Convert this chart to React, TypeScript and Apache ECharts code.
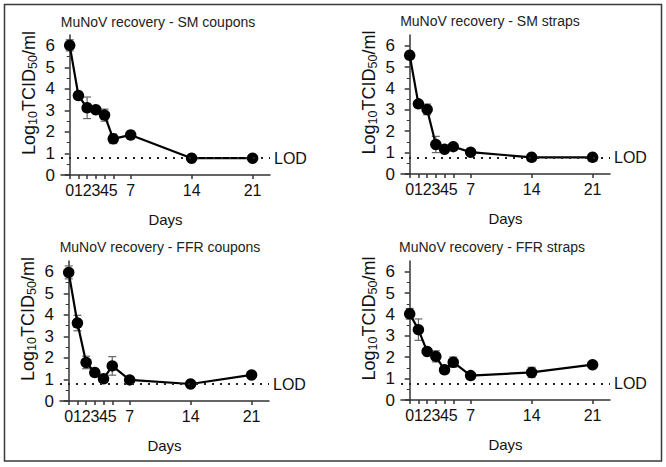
import React, { useEffect, useRef } from "react";
import * as echarts from "echarts";

const days = [0, 1, 2, 3, 4, 5, 7, 14, 21];
const dayTicks = [0, 1, 2, 3, 4, 5, 7, 14, 21];
const yTicks = [0, 1, 2, 3, 4, 5, 6];
const LOD = 0.78;

const titles = [
  "MuNoV recovery - SM coupons",
  "MuNoV recovery - SM straps",
  "MuNoV recovery - FFR coupons",
  "MuNoV recovery - FFR straps",
];

const smCouponsMean = [6.02, 3.69, 3.12, 3.03, 2.78, 1.68, 1.86, 0.78, 0.78];
const smCouponsErr = [0.26, 0, 0.5, 0, 0.28, 0.22, 0.18, 0, 0];

const smStrapsMean = [5.55, 3.28, 3.02, 1.38, 1.16, 1.28, 1.02, 0.78, 0.78];
const smStrapsErr = [0, 0, 0.25, 0.38, 0, 0, 0, 0, 0];

const ffrCouponsMean = [5.97, 3.62, 1.79, 1.32, 1.03, 1.63, 0.98, 0.79, 1.21];
const ffrCouponsErr = [0.3, 0.36, 0.29, 0, 0, 0.43, 0, 0, 0];

const ffrStrapsMean = [4.03, 3.29, 2.27, 2.04, 1.41, 1.77, 1.14, 1.29, 1.65];
const ffrStrapsErr = [0.25, 0.5, 0, 0.26, 0, 0.24, 0, 0.24, 0];

const means = [smCouponsMean, smStrapsMean, ffrCouponsMean, ffrStrapsMean];
const errs = [smCouponsErr, smStrapsErr, ffrCouponsErr, ffrStrapsErr];

const FONT = "'Liberation Sans', Arial, sans-serif";

export default function App() {
  const ref = useRef<HTMLDivElement>(null);

  useEffect(() => {
    if (!ref.current) return;
    const chart = echarts.init(ref.current, undefined, { renderer: "svg" });

    const grids = [
      { left: 61, top: 35, width: 209, height: 140 },
      { left: 401, top: 35, width: 209, height: 139 },
      { left: 60, top: 261, width: 209, height: 140 },
      { left: 401, top: 261, width: 209, height: 139 },
    ];
    const titlePos = [
      { left: 158, top: 15 },
      { left: 490, top: 14 },
      { left: 160, top: 240 },
      { left: 492, top: 240 },
    ];

    const axisColor = "#333";

    const xAxes = grids.map((_, i) => ({
      type: "value",
      gridIndex: i,
      min: -1,
      max: 23,
      interval: 1,
      name: "Days",
      nameLocation: "middle",
      nameGap: 37,
      nameTextStyle: { fontSize: 15, color: "#111", fontFamily: FONT },
      axisLine: { show: true, lineStyle: { color: axisColor, width: 1.5 } },
      axisTick: {
        show: true,
        length: 4,
        customValues: dayTicks,
        lineStyle: { color: axisColor, width: 1.5 },
      },
      axisLabel: {
        customValues: dayTicks,
        fontSize: 16,
        color: "#111",
        margin: 7,
        fontFamily: FONT,
      },
      splitLine: { show: false },
    }));

    const yAxes = grids.map((_, i) => ({
      type: "value",
      gridIndex: i,
      min: 0,
      max: 6.5,
      interval: 1,
      name: "{a|Log}{s|10}{a|TCID}{s|50}{a|/ml}",
      nameLocation: "middle",
      nameGap: 22,
      nameTextStyle: {
        fontFamily: FONT,
        color: "#111",
        padding: [0, 0, 0, 24],
        rich: {
          a: { fontSize: 18, lineHeight: 20, color: "#111", fontFamily: FONT, verticalAlign: "middle" },
          s: { fontSize: 12.5, lineHeight: 12, color: "#111", fontFamily: FONT, verticalAlign: "bottom" },
        },
      },
      axisLine: { show: true, lineStyle: { color: axisColor, width: 1.5 } },
      axisTick: {
        show: true,
        length: 5,
        customValues: yTicks,
        lineStyle: { color: axisColor, width: 1.5 },
      },
      minorTick: {
        show: true,
        splitNumber: 2,
        length: 3,
        lineStyle: { color: axisColor, width: 1 },
      },
      axisLabel: {
        customValues: yTicks,
        fontSize: 17,
        color: "#111",
        margin: 6,
        fontFamily: FONT,
      },
      splitLine: { show: false },
      minorSplitLine: { show: false },
    }));

    const errRender = (params: any, api: any) => {
      const x = api.value(0);
      const y = api.value(1);
      const e = api.value(2);
      if (!e) return null;
      const top = api.coord([x, y + e]);
      const bot = api.coord([x, y - e]);
      const hw = 4;
      const st = { stroke: "#666", lineWidth: 1.2 };
      return {
        type: "group",
        children: [
          { type: "line", shape: { x1: top[0], y1: top[1], x2: bot[0], y2: bot[1] }, style: st },
          { type: "line", shape: { x1: top[0] - hw, y1: top[1], x2: top[0] + hw, y2: top[1] }, style: st },
          { type: "line", shape: { x1: bot[0] - hw, y1: bot[1], x2: bot[0] + hw, y2: bot[1] }, style: st },
        ],
      };
    };

    const series: any[] = [];
    means.forEach((m, i) => {
      series.push({
        type: "custom",
        xAxisIndex: i,
        yAxisIndex: i,
        renderItem: errRender,
        encode: { x: 0, y: 1 },
        data: days.map((d, k) => [d, m[k], errs[i][k]]),
        z: 2,
        silent: true,
      });
      series.push({
        type: "line",
        xAxisIndex: i,
        yAxisIndex: i,
        data: days.map((d, k) => [d, m[k]]),
        symbol: "circle",
        symbolSize: 11.5,
        itemStyle: { color: "#000" },
        lineStyle: { color: "#000", width: 2.2 },
        z: 3,
        markLine: {
          silent: true,
          symbol: "none",
          data: [{ yAxis: LOD }],
          lineStyle: { type: [2, 6], color: "#222", width: 2 },
          label: {
            formatter: "LOD",
            position: "end",
            fontSize: 16,
            color: "#111",
            distance: 4,
            fontFamily: FONT,
          },
        },
      });
    });

    chart.setOption({
      animation: false,
      backgroundColor: "#fff",
      title: titles.map((t, i) => ({
        text: t,
        left: titlePos[i].left,
        top: titlePos[i].top,
        textAlign: "center",
        padding: 0,
        textStyle: { fontSize: 14, fontWeight: "normal", color: "#222", fontFamily: FONT },
      })),
      grid: grids,
      xAxis: xAxes,
      yAxis: yAxes,
      series,
      graphic: [
        {
          type: "rect",
          shape: { x: 4.5, y: 4.5, width: 657, height: 456.5 },
          style: { fill: "none", stroke: "#3a3a3a", lineWidth: 1.5 },
          silent: true,
        },
      ],
    });

    return () => chart.dispose();
  }, []);

  return (
    <div
      ref={ref}
      style={{ position: "absolute", left: 0, top: 0, width: 666, height: 467 }}
    />
  );
}
